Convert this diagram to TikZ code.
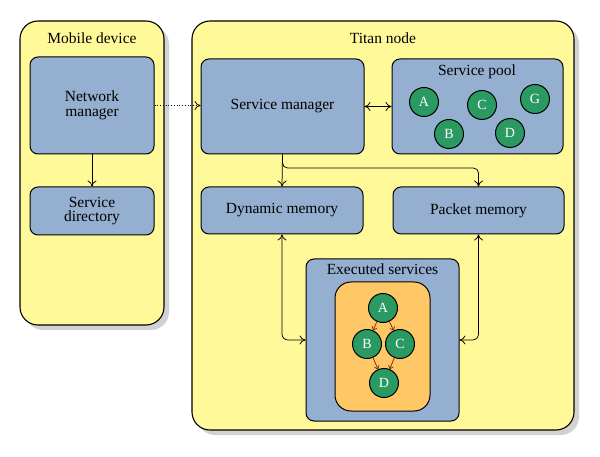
\documentclass[tikz,border=0pt]{standalone}
\usepackage{fontspec}
\setmainfont{Liberation Serif}
\usetikzlibrary{arrows.meta,shadows}
\definecolor{yel}{HTML}{FFF99A}
\definecolor{blu}{HTML}{94AFCF}
\definecolor{grn}{HTML}{2A9A62}
\definecolor{org}{HTML}{FFC766}
\definecolor{shd}{HTML}{D2D2D2}
\definecolor{redarr}{HTML}{7A2200}
\begin{document}
\begin{tikzpicture}[x=1pt,y=-1pt,
  container/.style={draw=black, line width=1.1pt, fill=yel, rounded corners=18pt,
    drop shadow={shadow xshift=5pt, shadow yshift=-5pt, fill=shd, opacity=1}},
  bluebox/.style={draw=black, line width=1pt, fill=blu, rounded corners=8pt, align=center,
    font=\fontsize{15.5}{14.5}\selectfont},
  title/.style={font=\fontsize{15.5}{16}\selectfont},
  svc/.style={circle, draw=black, line width=1pt, fill=grn, text=white, minimum size=29pt,
    inner sep=0pt, font=\fontsize{14}{14}\selectfont},
  arr/.style={-{To[length=6pt,width=9pt]}, line width=0.75pt},
  darr/.style={{To[length=6pt,width=9pt]}-{To[length=6pt,width=9pt]}, line width=0.75pt},
  sarr/.style={-{To[length=3.5pt,width=5.5pt]}, line width=0.7pt, draw=redarr}
]
\useasboundingbox (0,0) rectangle (600,457);

% outer containers
\node[container, minimum width=144pt, minimum height=304pt] (mob) at (92,173) {};
\node[container, minimum width=382pt, minimum height=409pt] (titan) at (383,225.5) {};
\node[title] (mobt) at (92,38) {Mobile device};
\node[title] (titant) at (383,38) {Titan node};

% mobile device contents
\node[bluebox, minimum width=124pt, minimum height=97pt] (nm) at (92,105.5) {Network\\manager};
\node[bluebox, minimum width=124pt, minimum height=48pt] (sd) at (92,211) {Service\\directory};

% titan contents
\node[bluebox, minimum width=163pt, minimum height=95pt] (sm) at (282.5,106.5) {Service manager};
\node[bluebox, minimum width=171pt, minimum height=95pt] (sp) at (477.5,106.5) {};
\node[title] (spt) at (477,72) {Service pool};
\node[bluebox, minimum width=162pt, minimum height=47pt] (dm) at (282,210.5) {Dynamic memory};
\node[bluebox, minimum width=171pt, minimum height=47pt] (pm) at (478.5,210.5) {Packet memory};
\node[bluebox, minimum width=153pt, minimum height=162pt] (es) at (382.5,340) {};
\node[title] (est) at (382.5,269) {Executed services};
\node[draw=black, line width=1pt, fill=org, rounded corners=16pt,
  minimum width=95pt, minimum height=129pt] (orange) at (382.5,346.5) {};

% service pool circles
\node[svc] (pa) at (424,102) {A};
\node[svc] (pc) at (482,105) {C};
\node[svc] (pg) at (535,99) {G};
\node[svc] (pb) at (449,134) {B};
\node[svc] (pd) at (510,133) {D};

% executed services graph
\node[svc] (ea) at (383,308) {A};
\node[svc] (eb) at (367,344) {B};
\node[svc] (ec) at (400,344) {C};
\node[svc] (ed) at (384,383) {D};
\draw[sarr] (ea) -- (eb);
\draw[sarr] (ea) -- (ec);
\draw[sarr] (eb) -- (ed);
\draw[sarr] (ec) -- (ed);

% connectors
\draw[arr] (nm.south) -- (sd.north);
\draw[arr, dotted] (nm.east) -- (nm.east -| sm.west);
\draw[darr] (sm.east) -- (sm.east -| sp.west);
\coordinate (br) at (282.5,168);
\draw[arr] (sm.south) -- (dm.north);
\draw[arr, rounded corners=5pt] (sm.south) -- (br) -| (pm.north);
\draw[darr, rounded corners=6pt] (dm.south) |- (es.west);
\draw[darr, rounded corners=6pt] (pm.south) |- (es.east);
\end{tikzpicture}
\end{document}
